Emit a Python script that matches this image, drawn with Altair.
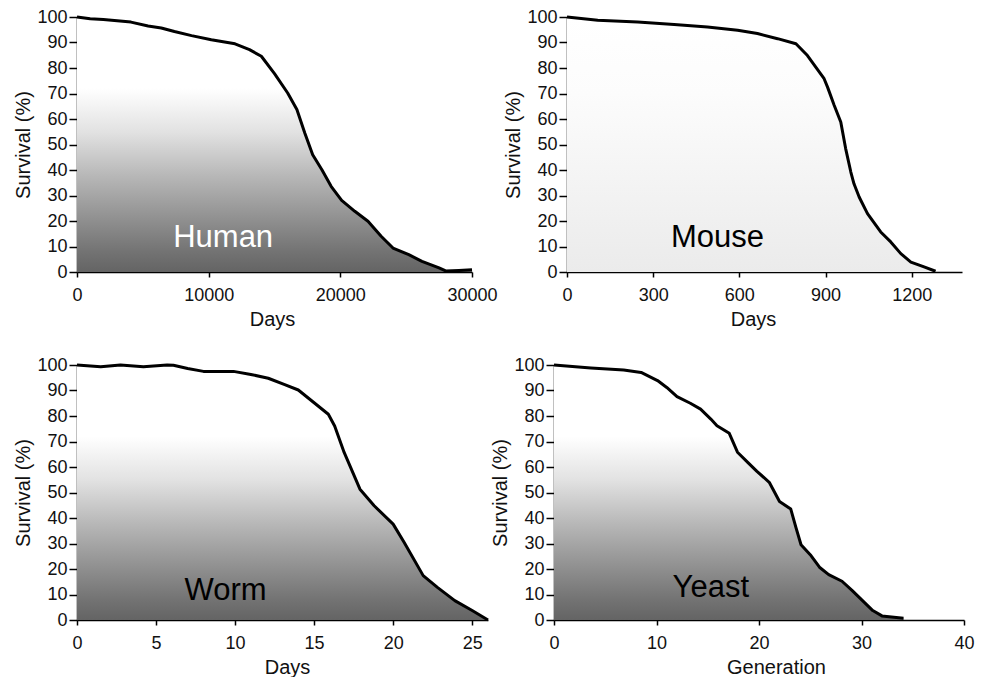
import altair as alt
import pandas as pd

# ---------------- data ----------------
human_x = [0, 1000, 2000, 4100, 5400, 6400, 7400, 8700, 10200, 12000, 13100, 14000, 15000,
           16000, 16700, 17300, 17900, 18600, 19300, 20100, 21100, 22100, 23100, 24000,
           25200, 26200, 27500, 28000, 29000, 30000]
human_y = [100, 99.3, 99, 98, 96.5, 95.7, 94.3, 92.7, 91.1, 89.5, 87.2, 84.6, 77.8,
           70.2, 63.7, 54.5, 46, 40.1, 33.6, 28.1, 23.8, 19.9, 14, 9.4,
           6.8, 4.2, 1.6, 0.4, 0.6, 0.9]

mouse_x = [0, 107, 246, 373, 489, 594, 663, 733, 797, 837, 895, 907, 930, 953, 970, 988,
           999, 1017, 1046, 1092, 1127, 1162, 1197, 1243, 1283]
mouse_y = [100, 98.7, 98, 97.1, 96.1, 94.8, 93.5, 91.5, 89.5, 84.9, 75.8, 72.5, 65.4, 58.8,
           48.4, 39.2, 34.6, 29.4, 22.9, 15.7, 11.8, 7.2, 3.9, 2, 0.3]

worm_x = [0, 1.5, 2.75, 4.2, 5.7, 6.1, 7, 8, 9.9, 11, 12.1, 13.1, 14, 15, 15.9, 16.3, 16.9,
          17.9, 18.8, 20, 20.7, 21.9, 22.8, 23.9, 25, 26]
worm_y = [100, 99.3, 100, 99.3, 100, 99.9, 98.6, 97.5, 97.5, 96.3, 94.8, 92.4, 90.2, 85.2,
          80.7, 76.1, 65.7, 51.3, 44.8, 37.6, 30.4, 17.4, 12.8, 7.6, 3.7, 0]

yeast_x = [0, 3.6, 6.8, 8.5, 10.1, 11.0, 12.0, 13.3, 14.3, 15.3, 15.9, 17.1, 17.9, 18.9, 19.8,
           21, 22, 23.1, 23.6, 24.1, 25, 25.9, 26.8, 28.1, 29.1, 30.1, 31.1, 32, 34.1]
yeast_y = [100, 98.8, 98, 97.1, 93.9, 91.2, 87.6, 85, 82.7, 78.8, 76.2, 73.2, 65.8, 61.8, 58.3,
           54, 46.5, 43.5, 36.3, 29.5, 25.6, 20.7, 17.8, 15.2, 11.5, 7.6, 3.7, 1.6, 0.7]

labels = ["Human", "Mouse", "Worm", "Yeast"]
label_x = [11100, 524, 9.4, 15.3]
label_y = [13.3, 13.3, 11.5, 12.5]
x_titles = ["Days", "Days", "Days", "Generation"]
x_domains = [[0, 30000], [0, 1375], [0, 26], [0, 40]]
x_ticks = [[0, 10000, 20000, 30000], [0, 300, 600, 900, 1200],
           [0, 5, 10, 15, 20, 25], [0, 10, 20, 30, 40]]
y_ticks = [0, 10, 20, 30, 40, 50, 60, 70, 80, 90, 100]

FONT = "Liberation Sans"

dark_grad = alt.Gradient(
    gradient="linear", x1=0, y1=0, x2=0, y2=1,
    stops=[alt.GradientStop(color="#ffffff", offset=0),
           alt.GradientStop(color="#ffffff", offset=0.28),
           alt.GradientStop(color="#e2e2e2", offset=0.45),
           alt.GradientStop(color="#b8b8b8", offset=0.62),
           alt.GradientStop(color="#939393", offset=0.78),
           alt.GradientStop(color="#737373", offset=0.92),
           alt.GradientStop(color="#646464", offset=1)])
light_grad = alt.Gradient(
    gradient="linear", x1=0, y1=0, x2=0, y2=1,
    stops=[alt.GradientStop(color="#ffffff", offset=0),
           alt.GradientStop(color="#fcfcfc", offset=0.3),
           alt.GradientStop(color="#ebebeb", offset=1)])


def panel(xs, ys, idx, fill, text_color, width, title_x):
    df = pd.DataFrame({"x": xs, "y": ys})
    xaxis = alt.Axis(values=x_ticks[idx], format="d", title=x_titles[idx],
                     titleX=title_x, labelFlush=False, labelOverlap=False)
    yaxis = alt.Axis(values=y_ticks, tickCount=11, title="Survival (%)",
                     labelOverlap=False, format="d")
    xscale = alt.Scale(domain=x_domains[idx], nice=False, zero=True)
    yscale = alt.Scale(domain=[0, 100], nice=False)

    def xe():
        return alt.X("x:Q", scale=xscale, axis=xaxis)

    def ye():
        return alt.Y("y:Q", scale=yscale, axis=yaxis)

    area = alt.Chart(df).mark_area(color=fill, opacity=1).encode(x=xe(), y=ye())
    line = alt.Chart(df).mark_line(color="#000000", strokeWidth=3,
                                   strokeJoin="round").encode(x=xe(), y=ye())
    tdf = pd.DataFrame({"x": [label_x[idx]], "y": [label_y[idx]], "t": [labels[idx]]})
    text = alt.Chart(tdf).mark_text(font=FONT, fontSize=31, color=text_color,
                                    baseline="middle", align="center").encode(
        x=xe(), y=ye(), text="t:N")
    return alt.layer(area, line, text).properties(width=width, height=255)


human = panel(human_x, human_y, 0, dark_grad, "#ffffff", 395, 195)
mouse = panel(mouse_x, mouse_y, 1, light_grad, "#000000", 395, 186)
worm = panel(worm_x, worm_y, 2, dark_grad, "#000000", 411, 210)
yeast = panel(yeast_x, yeast_y, 3, dark_grad, "#000000", 410, 222)

top = alt.hconcat(human, mouse, spacing=5)
bottom = alt.hconcat(worm, yeast, spacing=0)

chart = alt.vconcat(top, bottom, spacing=27).properties(
    padding={"left": 5, "top": 0, "right": 0, "bottom": 0}
).configure_view(strokeWidth=0).configure_axis(
    grid=False, domainColor="#000000", domainWidth=1.5, tickColor="#000000",
    tickWidth=1.5, labelFont=FONT, labelFontSize=18, labelColor="#111111",
    titleFont=FONT, titleFontSize=20, titleFontWeight="normal", titleColor="#111111",
    domain=True, zindex=1
).configure_axisY(tickSize=8, labelPadding=2, titlePadding=3
).configure_axisX(tickSize=5, labelPadding=9, titlePadding=5)

chart.save("out.html", embed_options={"renderer": "svg", "actions": False})
